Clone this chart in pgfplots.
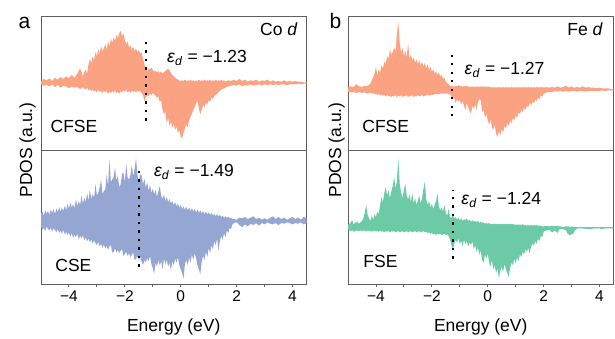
\documentclass[border=0pt]{standalone}
\usepackage{fontspec}
\setmainfont{Liberation Sans}
\usepackage{pgfplots}
\pgfplotsset{compat=1.18}
\usepackage{pgfplotstable}
\usepgfplotslibrary{fillbetween}

\definecolor{salmon}{RGB}{250,162,130}
\definecolor{slateblue}{RGB}{150,166,210}
\definecolor{mint}{RGB}{108,202,166}
\definecolor{framegray}{RGB}{95,95,95}

% Co d, CFSE: energy, spin-up, spin-down
\pgfplotstableread{
E up dn
-5.0 0.03 -0.02
-4.9 0.06 -0.04
-4.8 0.04 -0.03
-4.7 0.07 -0.05
-4.6 0.03 -0.02
-4.5 0.08 -0.06
-4.4 0.05 -0.03
-4.3 0.09 -0.07
-4.2 0.06 -0.04
-4.1 0.10 -0.05
-4.0 0.07 -0.08
-3.9 0.12 -0.05
-3.8 0.08 -0.07
-3.7 0.14 -0.06
-3.6 0.22 -0.09
-3.5 0.10 -0.06
-3.45 0.16 -0.08
-3.40 0.20 -0.10
-3.35 0.14 -0.07
-3.30 0.28 -0.11
-3.25 0.36 -0.09
-3.20 0.30 -0.12
-3.15 0.40 -0.10
-3.10 0.34 -0.13
-3.05 0.46 -0.11
-3.00 0.40 -0.14
-2.95 0.50 -0.10
-2.90 0.44 -0.13
-2.85 0.55 -0.12
-2.80 0.47 -0.15
-2.75 0.52 -0.11
-2.70 0.58 -0.14
-2.65 0.50 -0.12
-2.60 0.62 -0.16
-2.55 0.55 -0.13
-2.50 0.66 -0.15
-2.45 0.60 -0.12
-2.40 0.68 -0.14
-2.35 0.63 -0.11
-2.30 0.72 -0.15
-2.25 0.67 -0.13
-2.20 0.74 -0.16
-2.15 0.78 -0.12
-2.10 0.70 -0.14
-2.05 0.74 -0.11
-2.00 0.64 -0.13
-1.95 0.58 -0.10
-1.90 0.62 -0.14
-1.85 0.53 -0.12
-1.80 0.56 -0.15
-1.75 0.50 -0.11
-1.70 0.54 -0.13
-1.65 0.48 -0.12
-1.60 0.51 -0.14
-1.55 0.46 -0.11
-1.50 0.49 -0.13
-1.45 0.44 -0.12
-1.40 0.46 -0.15
-1.35 0.36 -0.18
-1.30 0.28 -0.27
-1.25 0.20 -0.22
-1.20 0.18 -0.18
-1.15 0.22 -0.20
-1.10 0.20 -0.16
-1.05 0.23 -0.18
-1.00 0.19 -0.15
-0.95 0.17 -0.17
-0.90 0.18 -0.19
-0.85 0.16 -0.22
-0.80 0.18 -0.20
-0.75 0.15 -0.28
-0.70 0.17 -0.26
-0.65 0.14 -0.40
-0.60 0.16 -0.47
-0.55 0.18 -0.42
-0.50 0.20 -0.60
-0.45 0.21 -0.52
-0.40 0.19 -0.64
-0.35 0.15 -0.58
-0.30 0.12 -0.67
-0.25 0.10 -0.60
-0.20 0.08 -0.70
-0.15 0.06 -0.65
-0.10 0.05 -0.75
-0.05 0.04 -0.70
0.00 0.03 -0.80
0.05 0.04 -0.83
0.10 0.03 -0.74
0.15 0.05 -0.68
0.20 0.03 -0.62
0.25 0.04 -0.66
0.30 0.03 -0.55
0.35 0.05 -0.50
0.40 0.03 -0.46
0.45 0.04 -0.40
0.50 0.02 -0.36
0.55 0.04 -0.30
0.60 0.03 -0.27
0.65 0.05 -0.38
0.70 0.03 -0.47
0.75 0.04 -0.40
0.80 0.03 -0.33
0.85 0.05 -0.36
0.90 0.03 -0.30
0.95 0.04 -0.32
1.00 0.03 -0.26
1.05 0.05 -0.28
1.10 0.03 -0.22
1.15 0.04 -0.24
1.20 0.03 -0.20
1.25 0.05 -0.18
1.30 0.03 -0.16
1.35 0.04 -0.14
1.40 0.03 -0.12
1.45 0.05 -0.10
1.50 0.03 -0.09
1.55 0.04 -0.08
1.60 0.02 -0.07
1.70 0.04 -0.05
1.80 0.03 -0.04
1.9 0.05 -0.03
2.0 0.03 -0.04
2.1 0.06 -0.02
2.2 0.03 -0.05
2.3 0.05 -0.03
2.4 0.02 -0.04
2.5 0.04 -0.02
2.6 0.03 -0.04
2.7 0.05 -0.03
2.8 0.02 -0.02
2.9 0.04 -0.04
3.0 0.03 -0.02
3.1 0.05 -0.03
3.2 0.02 -0.02
3.3 0.04 -0.03
3.4 0.02 -0.02
3.5 0.03 -0.03
3.6 0.02 -0.02
3.7 0.04 -0.02
3.8 0.02 -0.03
3.9 0.03 -0.02
4.0 0.02 -0.02
4.1 0.03 -0.02
4.2 0.02 -0.01
4.3 0.02 -0.02
4.4 0.01 -0.01
4.5 0.01 -0.01
}\coCFSE

% Co d, CSE
\pgfplotstableread{
E up dn
-5.00 0.10 -0.09
-4.95 0.14 -0.13
-4.90 0.08 -0.10
-4.85 0.16 -0.15
-4.80 0.11 -0.08
-4.75 0.15 -0.12
-4.70 0.09 -0.14
-4.65 0.17 -0.10
-4.60 0.12 -0.16
-4.55 0.18 -0.11
-4.50 0.10 -0.13
-4.45 0.19 -0.17
-4.40 0.13 -0.12
-4.35 0.21 -0.18
-4.30 0.14 -0.14
-4.25 0.20 -0.19
-4.20 0.15 -0.13
-4.15 0.23 -0.20
-4.10 0.16 -0.16
-4.05 0.26 -0.21
-4.00 0.18 -0.17
-3.95 0.28 -0.23
-3.90 0.20 -0.18
-3.85 0.25 -0.25
-3.80 0.19 -0.20
-3.75 0.33 -0.24
-3.70 0.22 -0.19
-3.65 0.30 -0.27
-3.60 0.24 -0.22
-3.55 0.38 -0.26
-3.50 0.26 -0.21
-3.45 0.35 -0.29
-3.40 0.28 -0.24
-3.35 0.42 -0.30
-3.30 0.30 -0.26
-3.25 0.47 -0.32
-3.20 0.33 -0.27
-3.15 0.40 -0.34
-3.10 0.35 -0.29
-3.05 0.55 -0.33
-3.00 0.38 -0.36
-2.95 0.42 -0.31
-2.90 0.50 -0.38
-2.85 0.62 -0.34
-2.80 0.40 -0.40
-2.75 0.45 -0.35
-2.70 0.47 -0.41
-2.65 0.70 -0.37
-2.60 0.52 -0.43
-2.55 0.92 -0.38
-2.50 0.58 -0.36
-2.45 0.62 -0.47
-2.40 0.66 -0.46
-2.35 0.80 -0.41
-2.30 0.60 -0.47
-2.25 0.68 -0.43
-2.20 0.50 -0.48
-2.15 0.55 -0.44
-2.10 0.70 -0.42
-2.05 0.72 -0.52
-2.00 0.58 -0.49
-1.95 0.86 -0.46
-1.90 0.64 -0.52
-1.85 0.62 -0.48
-1.80 0.68 -0.54
-1.75 0.84 -0.50
-1.70 0.66 -0.47
-1.65 0.78 -0.58
-1.60 0.94 -0.57
-1.55 0.70 -0.52
-1.50 0.58 -0.58
-1.45 0.70 -0.54
-1.40 0.68 -0.60
-1.35 0.55 -0.66
-1.30 0.63 -0.58
-1.25 0.50 -0.62
-1.20 0.58 -0.55
-1.15 0.45 -0.60
-1.10 0.54 -0.52
-1.05 0.42 -0.64
-1.00 0.48 -0.70
-0.95 0.40 -0.79
-0.90 0.46 -0.62
-0.85 0.36 -0.68
-0.80 0.44 -0.58
-0.75 0.52 -0.66
-0.70 0.38 -0.60
-0.65 0.33 -0.72
-0.60 0.40 -0.56
-0.55 0.30 -0.64
-0.50 0.36 -0.58
-0.45 0.28 -0.68
-0.40 0.33 -0.62
-0.35 0.26 -0.74
-0.30 0.30 -0.60
-0.25 0.24 -0.66
-0.20 0.28 -0.56
-0.15 0.22 -0.62
-0.10 0.26 -0.54
-0.05 0.20 -0.66
0.00 0.24 -0.72
0.05 0.18 -0.78
0.10 0.22 -0.86
0.15 0.17 -0.64
0.20 0.21 -0.58
0.25 0.16 -0.66
0.30 0.20 -0.54
0.35 0.15 -0.62
0.40 0.19 -0.50
0.45 0.14 -0.58
0.50 0.18 -0.48
0.55 0.13 -0.56
0.60 0.17 -0.66
0.65 0.12 -0.72
0.70 0.16 -0.80
0.75 0.11 -0.60
0.80 0.15 -0.52
0.85 0.10 -0.58
0.90 0.14 -0.46
0.95 0.10 -0.54
1.00 0.13 -0.40
1.05 0.09 -0.48
1.10 0.12 -0.36
1.15 0.08 -0.42
1.20 0.11 -0.30
1.25 0.07 -0.36
1.30 0.10 -0.26
1.35 0.07 -0.44
1.40 0.09 -0.30
1.45 0.06 -0.22
1.50 0.08 -0.28
1.55 0.05 -0.18
1.60 0.07 -0.24
1.65 0.05 -0.14
1.70 0.06 -0.18
1.75 0.04 -0.10
1.80 0.05 -0.12
1.85 0.03 -0.05
1.90 0.03 -0.03
2.0 0.02 -0.02
2.1 0.05 -0.06
2.2 0.04 -0.09
2.3 0.06 -0.05
2.4 0.03 -0.08
2.5 0.05 -0.04
2.6 0.07 -0.06
2.7 0.03 -0.03
2.8 0.05 -0.07
2.9 0.02 -0.03
3.0 0.04 -0.05
3.1 0.02 -0.02
3.2 0.05 -0.04
3.3 0.07 -0.05
3.4 0.03 -0.03
3.5 0.06 -0.06
3.6 0.03 -0.03
3.7 0.05 -0.04
3.8 0.02 -0.02
3.9 0.04 -0.03
4.0 0.06 -0.05
4.1 0.03 -0.03
4.2 0.05 -0.04
4.3 0.02 -0.02
4.4 0.06 -0.05
4.5 0.04 -0.03
}\coCSE

% Fe d, CFSE
\pgfplotstableread{
E up dn
-5.0 0.03 -0.03
-4.9 0.05 -0.04
-4.8 0.04 -0.03
-4.7 0.08 -0.05
-4.6 0.05 -0.03
-4.5 0.04 -0.05
-4.4 0.06 -0.04
-4.3 0.05 -0.06
-4.2 0.09 -0.04
-4.15 0.14 -0.06
-4.10 0.18 -0.05
-4.05 0.24 -0.07
-4.00 0.34 -0.06
-3.95 0.22 -0.08
-3.90 0.30 -0.06
-3.85 0.26 -0.09
-3.80 0.36 -0.07
-3.75 0.32 -0.09
-3.70 0.42 -0.08
-3.65 0.38 -0.10
-3.60 0.50 -0.08
-3.55 0.46 -0.10
-3.50 0.60 -0.09
-3.45 0.52 -0.11
-3.40 0.56 -0.09
-3.35 0.62 -0.10
-3.30 0.58 -0.08
-3.25 0.82 -0.11
-3.20 1.02 -0.09
-3.15 0.70 -0.10
-3.10 0.56 -0.08
-3.05 0.62 -0.11
-3.00 0.50 -0.09
-2.95 0.58 -0.10
-2.90 0.48 -0.08
-2.85 0.70 -0.11
-2.80 0.46 -0.09
-2.75 0.52 -0.10
-2.70 0.44 -0.08
-2.65 0.48 -0.11
-2.60 0.40 -0.09
-2.55 0.45 -0.10
-2.50 0.38 -0.08
-2.45 0.44 -0.10
-2.40 0.36 -0.09
-2.35 0.42 -0.08
-2.30 0.34 -0.10
-2.25 0.40 -0.09
-2.20 0.32 -0.08
-2.15 0.38 -0.07
-2.10 0.30 -0.09
-2.05 0.34 -0.08
-2.00 0.27 -0.07
-1.95 0.30 -0.08
-1.90 0.24 -0.06
-1.85 0.27 -0.07
-1.80 0.22 -0.06
-1.75 0.26 -0.07
-1.70 0.20 -0.06
-1.65 0.22 -0.05
-1.60 0.16 -0.06
-1.55 0.18 -0.05
-1.50 0.12 -0.06
-1.45 0.10 -0.05
-1.40 0.08 -0.07
-1.35 0.06 -0.06
-1.30 0.05 -0.10
-1.25 0.06 -0.14
-1.20 0.04 -0.12
-1.15 0.06 -0.20
-1.10 0.05 -0.14
-1.05 0.07 -0.18
-1.00 0.05 -0.15
-0.95 0.06 -0.22
-0.90 0.04 -0.17
-0.85 0.06 -0.24
-0.80 0.05 -0.30
-0.75 0.06 -0.20
-0.70 0.04 -0.26
-0.65 0.05 -0.32
-0.60 0.04 -0.36
-0.55 0.05 -0.24
-0.50 0.04 -0.28
-0.45 0.05 -0.22
-0.40 0.04 -0.30
-0.35 0.05 -0.18
-0.30 0.04 -0.14
-0.25 0.05 -0.16
-0.20 0.04 -0.34
-0.15 0.05 -0.30
-0.10 0.04 -0.42
-0.05 0.05 -0.36
0.00 0.04 -0.46
0.05 0.05 -0.52
0.10 0.03 -0.44
0.15 0.04 -0.56
0.20 0.03 -0.60
0.25 0.04 -0.52
0.30 0.03 -0.66
0.35 0.04 -0.70
0.40 0.03 -0.62
0.45 0.04 -0.68
0.50 0.03 -0.58
0.55 0.04 -0.64
0.60 0.03 -0.54
0.65 0.04 -0.58
0.70 0.03 -0.50
0.75 0.04 -0.54
0.80 0.03 -0.46
0.85 0.04 -0.50
0.90 0.03 -0.42
0.95 0.04 -0.46
1.00 0.03 -0.38
1.05 0.04 -0.42
1.10 0.03 -0.34
1.15 0.04 -0.36
1.20 0.03 -0.30
1.25 0.04 -0.33
1.30 0.03 -0.27
1.35 0.04 -0.30
1.40 0.03 -0.24
1.45 0.04 -0.26
1.50 0.03 -0.20
1.55 0.04 -0.23
1.60 0.03 -0.18
1.65 0.04 -0.20
1.70 0.03 -0.15
1.75 0.04 -0.17
1.80 0.03 -0.12
1.85 0.04 -0.14
1.90 0.03 -0.09
1.95 0.04 -0.10
2.0 0.03 -0.06
2.1 0.04 -0.04
2.2 0.03 -0.03
2.3 0.04 -0.04
2.4 0.03 -0.02
2.5 0.05 -0.03
2.6 0.03 -0.02
2.7 0.04 -0.03
2.8 0.06 -0.02
2.9 0.03 -0.03
3.0 0.05 -0.02
3.1 0.03 -0.02
3.2 0.04 -0.03
3.3 0.03 -0.02
3.4 0.05 -0.02
3.5 0.03 -0.03
3.6 0.04 -0.02
3.7 0.03 -0.02
3.8 0.03 -0.02
3.9 0.02 -0.02
4.0 0.03 -0.02
4.1 0.02 -0.01
4.2 0.02 -0.02
4.3 0.02 -0.01
4.4 0.01 -0.01
4.5 0.01 -0.01
}\feCFSE

% Fe d, FSE
\pgfplotstableread{
E up dn
-5.0 0.04 -0.03
-4.9 0.08 -0.05
-4.85 0.11 -0.04
-4.8 0.05 -0.06
-4.7 0.09 -0.04
-4.6 0.06 -0.05
-4.5 0.10 -0.04
-4.45 0.14 -0.05
-4.40 0.22 -0.04
-4.35 0.34 -0.06
-4.30 0.20 -0.04
-4.25 0.14 -0.05
-4.20 0.10 -0.04
-4.15 0.18 -0.06
-4.10 0.12 -0.05
-4.05 0.20 -0.04
-4.00 0.16 -0.06
-3.95 0.24 -0.05
-3.90 0.20 -0.06
-3.85 0.34 -0.04
-3.80 0.46 -0.06
-3.75 0.38 -0.05
-3.70 0.52 -0.07
-3.65 0.61 -0.05
-3.60 0.48 -0.06
-3.55 0.56 -0.05
-3.50 0.44 -0.07
-3.45 0.54 -0.05
-3.40 0.62 -0.06
-3.35 0.76 -0.05
-3.30 0.58 -0.07
-3.25 0.70 -0.06
-3.20 1.03 -0.05
-3.15 0.66 -0.07
-3.10 0.52 -0.06
-3.05 0.44 -0.05
-3.00 0.56 -0.07
-2.95 0.66 -0.06
-2.90 0.48 -0.05
-2.85 0.42 -0.07
-2.80 0.50 -0.06
-2.75 0.38 -0.05
-2.70 0.52 -0.07
-2.65 0.36 -0.06
-2.60 0.44 -0.05
-2.55 0.34 -0.07
-2.50 0.40 -0.06
-2.45 0.48 -0.05
-2.40 0.36 -0.07
-2.35 0.44 -0.06
-2.30 0.58 -0.05
-2.25 0.69 -0.07
-2.20 0.42 -0.06
-2.15 0.34 -0.08
-2.10 0.40 -0.07
-2.05 0.30 -0.09
-2.00 0.36 -0.08
-1.95 0.28 -0.10
-1.90 0.34 -0.09
-1.85 0.40 -0.11
-1.80 0.51 -0.09
-1.75 0.32 -0.10
-1.70 0.26 -0.09
-1.65 0.30 -0.11
-1.60 0.24 -0.10
-1.55 0.34 -0.09
-1.50 0.22 -0.11
-1.45 0.18 -0.10
-1.40 0.28 -0.12
-1.35 0.16 -0.18
-1.30 0.14 -0.26
-1.25 0.20 -0.33
-1.20 0.13 -0.24
-1.15 0.16 -0.18
-1.10 0.12 -0.22
-1.05 0.15 -0.16
-1.00 0.11 -0.24
-0.95 0.14 -0.20
-0.90 0.10 -0.27
-0.85 0.13 -0.18
-0.80 0.11 -0.24
-0.75 0.14 -0.20
-0.70 0.10 -0.28
-0.65 0.12 -0.22
-0.60 0.09 -0.26
-0.55 0.11 -0.20
-0.50 0.09 -0.32
-0.45 0.10 -0.26
-0.40 0.08 -0.36
-0.35 0.10 -0.30
-0.30 0.07 -0.40
-0.25 0.09 -0.34
-0.20 0.07 -0.48
-0.15 0.08 -0.53
-0.10 0.06 -0.40
-0.05 0.07 -0.46
0.00 0.06 -0.38
0.05 0.07 -0.52
0.10 0.05 -0.58
0.15 0.06 -0.48
0.20 0.05 -0.62
0.25 0.06 -0.56
0.30 0.05 -0.68
0.35 0.06 -0.60
0.40 0.05 -0.76
0.45 0.06 -0.64
0.50 0.05 -0.58
0.55 0.06 -0.66
0.60 0.05 -0.54
0.65 0.06 -0.62
0.70 0.05 -0.68
0.75 0.06 -0.73
0.80 0.05 -0.60
0.85 0.06 -0.52
0.90 0.05 -0.56
0.95 0.05 -0.46
1.00 0.04 -0.54
1.05 0.05 -0.44
1.10 0.04 -0.50
1.15 0.05 -0.40
1.20 0.04 -0.44
1.25 0.05 -0.36
1.30 0.04 -0.40
1.35 0.04 -0.32
1.40 0.03 -0.36
1.45 0.04 -0.30
1.50 0.03 -0.38
1.55 0.04 -0.28
1.60 0.03 -0.24
1.65 0.04 -0.26
1.70 0.03 -0.20
1.75 0.04 -0.24
1.80 0.03 -0.16
1.85 0.03 -0.20
1.90 0.03 -0.12
1.95 0.02 -0.14
2.00 0.02 -0.06
2.10 0.03 -0.04
2.20 0.02 -0.03
2.30 0.03 -0.07
2.40 0.02 -0.04
2.50 0.03 -0.08
2.55 0.02 -0.03
2.60 0.02 -0.02
2.70 0.01 -0.02
2.80 0.02 -0.04
2.85 0.02 -0.08
2.90 0.02 -0.10
2.95 0.01 -0.11
3.00 0.02 -0.09
3.05 0.01 -0.10
3.10 0.01 -0.05
3.20 0.01 -0.01
3.4 0.01 -0.01
3.6 0.01 -0.02
3.7 0.01 -0.02
3.8 0.01 -0.01
4.0 0.01 -0.01
4.1 0.01 -0.02
4.2 0.01 -0.01
4.5 0.01 -0.01
}\feFSE

\pgfplotsset{
  pdos/.style={
    scale only axis, width=265.5bp, height=134bp,
    xmin=-5, xmax=4.5, ytick=\empty,
    axis line style={framegray, line width=0.9bp},
    anchor=south west,
    font=\fontsize{17.5bp}{21bp}\selectfont,
  },
  pdostop/.style={pdos, xtick=\empty},
  pdosbottom/.style={pdos,
    xtick={-4,-2,0,2,4}, minor xtick={-3,-1,1,3},
    xticklabels={−4,−2,0,2,4},
    xtick pos=left, tick align=outside,
    major tick length=3.5bp, minor tick length=3bp,
    every tick/.style={framegray, line width=0.9bp},
    xticklabel style={font=\fontsize{15.5bp}{18bp}\selectfont},
    xlabel={Energy (eV)},
    xlabel style={at={(0.5,-0.358)}, anchor=base},
  },
  edline/.style={black, line width=2.1bp, dash pattern=on 2.1bp off 6.4bp},
}

\newcommand{\ed}[1]{\textit{ε}\textsubscript{\textit{d}} = #1}

\begin{document}
\begin{tikzpicture}

% ---- a: Co d ----
\begin{axis}[pdostop, at={(41bp,188bp)}, ymin=-1.0, ymax=1.0]
  \addplot[name path=u, draw=none] table[x=E, y=up] {\coCFSE};
  \addplot[name path=d, draw=none] table[x=E, y=dn] {\coCFSE};
  \addplot[fill=salmon, draw=none] fill between[of=u and d];
  \addplot[edline] coordinates {(-1.23,-0.56) (-1.23,0.64)};
  \node[anchor=base west] at (axis cs:-0.61,0.30) {\ed{−1.23}};
  \node[anchor=base east] at (rel axis cs:0.98,0.858) {Co \textit{d}};
  \node[anchor=base west] at (rel axis cs:0.023,0.127) {CFSE};
\end{axis}

\begin{axis}[pdosbottom, at={(41bp,54bp)}, ymin=-0.94, ymax=1.06]
  \addplot[name path=u, draw=none] table[x=E, y=up] {\coCSE};
  \addplot[name path=d, draw=none] table[x=E, y=dn] {\coCSE};
  \addplot[fill=slateblue, draw=none] fill between[of=u and d];
  \addplot[edline] coordinates {(-1.49,-0.68) (-1.49,0.81)};
  \node[anchor=base west] at (axis cs:-1.08,0.66) {\ed{−1.49}};
  \node[anchor=base west] at (rel axis cs:0.041,0.09) {CSE};
\end{axis}

% ---- b: Fe d ----
\begin{axis}[pdostop, at={(348bp,188bp)}, ymin=-0.9, ymax=1.1]
  \addplot[name path=u, draw=none] table[x=E, y=up] {\feCFSE};
  \addplot[name path=d, draw=none] table[x=E, y=dn] {\feCFSE};
  \addplot[fill=salmon, draw=none] fill between[of=u and d];
  \addplot[edline] coordinates {(-1.27,-0.40) (-1.27,0.52)};
  \node[anchor=base west] at (axis cs:-0.95,0.22) {\ed{−1.27}};
  \node[anchor=base east] at (rel axis cs:0.973,0.858) {Fe \textit{d}};
  \node[anchor=base west] at (rel axis cs:0.041,0.127) {CFSE};
\end{axis}

\begin{axis}[pdosbottom, at={(348bp,54bp)}, ymin=-0.84, ymax=1.16]
  \addplot[name path=u, draw=none] table[x=E, y=up] {\feFSE};
  \addplot[name path=d, draw=none] table[x=E, y=dn] {\feFSE};
  \addplot[fill=mint, draw=none] fill between[of=u and d];
  \addplot[edline] coordinates {(-1.24,-0.46) (-1.24,0.57)};
  \node[anchor=base west] at (axis cs:-1.07,0.34) {\ed{−1.24}};
  \node[anchor=base west] at (rel axis cs:0.045,0.12) {FSE};
\end{axis}

% panel letters and shared y labels
\node[anchor=base west, font=\fontsize{21bp}{24bp}\selectfont] at (15bp,309bp) {a};
\node[anchor=base west, font=\fontsize{21bp}{24bp}\selectfont] at (326bp,309bp) {b};
\node[rotate=90, anchor=base, font=\fontsize{17.5bp}{21bp}\selectfont] at (32bp,188bp) {PDOS (a.u.)};
\node[rotate=90, anchor=base, font=\fontsize{17.5bp}{21bp}\selectfont] at (341bp,188bp) {PDOS (a.u.)};
% page frame
\path (0bp,0bp) rectangle (615bp,338bp);
\end{tikzpicture}
\end{document}
